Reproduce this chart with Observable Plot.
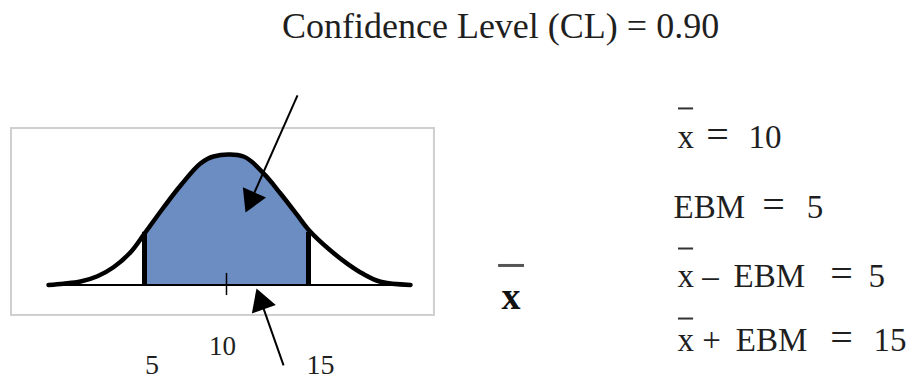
<!DOCTYPE html>
<html>
<head>
<meta charset="utf-8">
<script src="https://cdn.jsdelivr.net/npm/d3@7"></script>
<script src="https://cdn.jsdelivr.net/npm/@observablehq/plot@0.6"></script>
<style>
  html, body { margin: 0; padding: 0; background: #fff; }
  #chart svg { display: block; }
  #chart svg text { font-family: "Liberation Serif", "Tinos", "DejaVu Serif", "Noto Serif", "Times New Roman", Times, serif !important; }
</style>
</head>
<body>
<div id="chart"></div>
<script>
// ---- data ----
const title = "Confidence Level (CL) = 0.90";
const xbar = 10;
const ebm = 5;
const bounds = [xbar - ebm, xbar + ebm];          // 5, 15
const boundHeights = [0.41, 0.41];                 // curve height at the bounds
const curveX = [-0.85, 0.06, 1.10, 2.13, 3.11, 4.15, 5.0, 6.16, 7.20, 8.41, 9.21, 11.04, 12.26, 13.29, 14.33, 15.0, 16.34, 17.38, 18.35, 19.39, 21.22];
const curveH = [0, 0.010, 0.027, 0.068, 0.138, 0.255, 0.40, 0.603, 0.774, 0.945, 1.0, 1.0, 0.868, 0.712, 0.541, 0.43, 0.268, 0.165, 0.085, 0.025, 0];
const tickLabels = ["5", "10", "15"];
const eqLeft = ["x", "EBM", "x \u2013\u2009 EBM", "x +\u2009 EBM"];
const eqRight = ["10", "5", "5", "15"];
const eqBarred = [true, false, true, true];

// ---- layout (annotation positions in chart units) ----
const W = 906, H = 381;
const xDomain = [-3.78, 51.463];
const yDomain = [-0.751, 2.214];
const frameBox = {x1: -3.11, x2: 22.68, y1: -0.237, y2: 1.218};
const titlePos = {x: 26.71, y: 1.926};
const labelX = [5.46, 9.76, 15.73];
const labelY = [-0.69, -0.541, -0.69];
const tickY = [-0.082, 0.09];
const arrows = [
  {x1: 14.33, y1: 1.475, x2: 11.16, y2: 0.564},
  {x1: 13.48, y1: -0.626, x2: 11.83, y2: -0.027}
];
const bigX = {x: 27.35, y: -0.183, barY: 0.152, barX1: 26.59, barX2: 28.17};
const eqRowY = [1.070, 0.525, -0.019, -0.510];
const eqLeftX = [37.5, 37.26, 37.5, 37.5];
const eqEqX = [39.94, 43.35, 47.50, 47.50];
const eqValX = [41.83, 45.38, 49.15, 49.45];
const eqBarY = [1.374, null, 0.284, -0.261];
const eqBarX = [37.56, 38.48];

// ---- derived tables ----
const curve = curveX.map((x, i) => ({x, h: curveH[i]}));
const shaded = curve.filter(d => d.x >= bounds[0] && d.x <= bounds[1]);
const eqRows = eqLeft.map((t, i) => ({
  left: t, right: eqRight[i], y: eqRowY[i], lx: eqLeftX[i], ex: eqEqX[i], vx: eqValX[i], barY: eqBarY[i], barred: eqBarred[i]
}));
const labels = tickLabels.map((t, i) => ({t, x: labelX[i], y: labelY[i], bold: +t === xbar}));

// arrowheads: filled triangles, oriented along each arrow in screen space
const sx = Plot.scale({x: {domain: xDomain, range: [0, W]}});
const sy = Plot.scale({y: {domain: yDomain, range: [H, 0]}});
const headH = 22;
const ys = headH / 3;
const headR = Math.sqrt(ys * ys * 3 * Math.sqrt(3) / Math.PI);
const heads = arrows.map(a => {
  const px1 = sx.apply(a.x1), py1 = sy.apply(a.y1), px2 = sx.apply(a.x2), py2 = sy.apply(a.y2);
  const dx = px2 - px1, dy = py2 - py1, L = Math.hypot(dx, dy);
  const ux = dx / L, uy = dy / L;
  const cx = px2 - ux * 2 * ys, cy = py2 - uy * 2 * ys;
  return {
    x: sx.invert(cx), y: sy.invert(cy),
    rotate: Math.atan2(ux, -uy) * 180 / Math.PI,
    x1: a.x1, y1: a.y1
  };
});

const ink = "#1f1f1f";

const chart = Plot.plot({
  width: W, height: H,
  marginTop: 0, marginRight: 0, marginBottom: 0, marginLeft: 0,
  x: {domain: xDomain, axis: null},
  y: {domain: yDomain, axis: null},
  marks: [
    Plot.rect([frameBox], {x1: "x1", x2: "x2", y1: "y1", y2: "y2", fill: "none", stroke: "#cfcfcf", strokeWidth: 2}),
    Plot.areaY(shaded, {x: "x", y: "h", fill: "#6b8dc2", curve: "catmull-rom"}),
    Plot.ruleY([0], {x1: curveX[0], x2: curveX[curveX.length - 1], stroke: "#000", strokeWidth: 2}),
    Plot.ruleX(bounds, {y1: 0, y2: (d, i) => boundHeights[i], stroke: "#000", strokeWidth: 5}),
    Plot.ruleX([xbar], {y1: tickY[0], y2: tickY[1], stroke: "#000", strokeWidth: 1.5}),
    Plot.line(curve, {x: "x", y: "h", stroke: "#000", strokeWidth: 4.5, curve: "catmull-rom"}),
    Plot.link(heads, {x1: "x1", y1: "y1", x2: "x", y2: "y", stroke: "#000", strokeWidth: 2}),
    Plot.dot(heads, {x: "x", y: "y", symbol: "triangle", r: headR, rotate: "rotate", fill: "#000", stroke: "none"}),
    Plot.text([title], {x: titlePos.x, y: titlePos.y, text: d => d, fontSize: 36, textAnchor: "middle", lineAnchor: "bottom", fill: ink}),
    Plot.text(labels, {x: "x", y: "y", text: "t", fontSize: d => d.bold ? 27 : 28, fontWeight: d => d.bold ? "bold" : "normal", textAnchor: "middle", lineAnchor: "bottom", fill: ink}),
    Plot.text(["x"], {x: bigX.x, y: bigX.y, text: d => d, fontSize: 38, fontWeight: "bold", textAnchor: "middle", lineAnchor: "bottom", fill: "#111"}),
    Plot.ruleY([bigX.barY], {x1: bigX.barX1, x2: bigX.barX2, stroke: "#555", strokeWidth: 3}),
    Plot.text(eqRows, {x: "lx", y: "y", text: "left", fontSize: 33, textAnchor: "start", lineAnchor: "bottom", fill: ink}),
    Plot.text(eqRows, {x: "ex", y: "y", text: () => "=", fontSize: 40, textAnchor: "middle", lineAnchor: "bottom", fill: ink}),
    Plot.text(eqRows, {x: "vx", y: "y", text: "right", fontSize: 33, textAnchor: "start", lineAnchor: "bottom", fill: ink}),
    Plot.ruleY(eqRows.filter(d => d.barred), {y: "barY", x1: eqBarX[0], x2: eqBarX[1], stroke: "#333", strokeWidth: 2})
  ]
});
document.getElementById("chart").append(chart);
</script>
</body>
</html>
